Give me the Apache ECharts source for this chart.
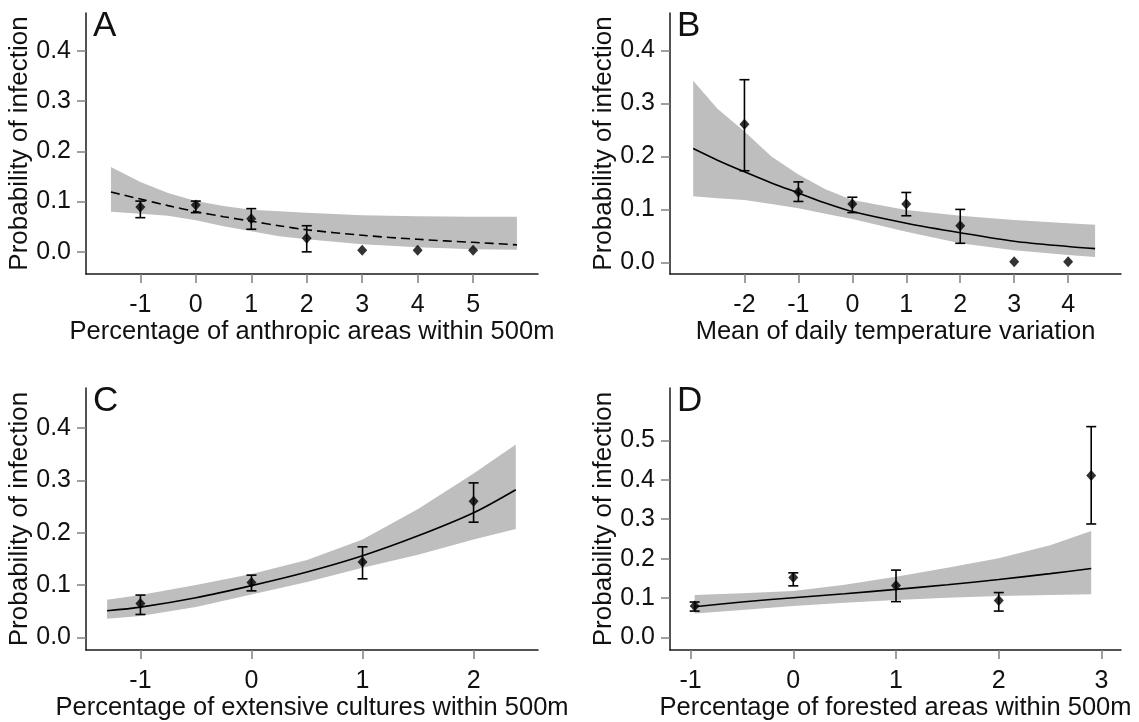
<!DOCTYPE html>
<html>
<head>
<meta charset="utf-8">
<title>Probability of infection</title>
<script src="https://cdn.jsdelivr.net/npm/echarts@6/dist/echarts.min.js"></script>
<style>
  html, body { margin: 0; padding: 0; background: #fff; }
  #main { width: 1139px; height: 722px; }
</style>
</head>
<body>
<div id="main"></div>
<script>
// ---- panel A : anthropic areas ----
var aPtX  = [-1, 0, 1, 2, 3, 4, 5];
var aPtY  = [0.089, 0.093, 0.066, 0.027, 0.003, 0.003, 0.003];
var aErrLo = [0.068, 0.078, 0.045, 0.000, null, null, null];
var aErrHi = [0.101, 0.101, 0.086, 0.052, null, null, null];
var aFitX  = [-1.53, -1, -0.5, 0, 0.5, 1, 1.5, 2, 3, 4, 5, 5.79];
var aFitY  = [0.119, 0.105, 0.092, 0.080, 0.070, 0.061, 0.052, 0.044, 0.033, 0.025, 0.019, 0.014];
var aBandHi = [0.169, 0.139, 0.117, 0.101, 0.091, 0.084, 0.081, 0.078, 0.073, 0.071, 0.070, 0.070];
var aBandLo = [0.080, 0.076, 0.072, 0.063, 0.051, 0.041, 0.031, 0.025, 0.015, 0.009, 0.005, 0.004];
var aTicksX = [-1, 0, 1, 2, 3, 4, 5];

// ---- panel B : daily temperature variation ----
var bPtX  = [-2, -1, 0, 1, 2, 3, 4];
var bPtY  = [0.261, 0.133, 0.110, 0.110, 0.069, 0.001, 0.001];
var bErrLo = [0.173, 0.115, 0.094, 0.088, 0.036, null, null];
var bErrHi = [0.345, 0.152, 0.123, 0.132, 0.100, null, null];
var bFitX  = [-2.95, -2.5, -2, -1.5, -1, -0.5, 0, 1, 2, 3, 4, 4.5];
var bFitY  = [0.215, 0.193, 0.171, 0.150, 0.131, 0.112, 0.096, 0.074, 0.056, 0.040, 0.030, 0.026];
var bBandHi = [0.343, 0.290, 0.247, 0.200, 0.166, 0.138, 0.118, 0.099, 0.088, 0.080, 0.074, 0.071];
var bBandLo = [0.125, 0.121, 0.118, 0.110, 0.102, 0.092, 0.082, 0.058, 0.036, 0.023, 0.014, 0.010];
var bTicksX = [-2, -1, 0, 1, 2, 3, 4];

// ---- panel C : extensive cultures ----
var cPtX  = [-1, 0, 1, 2];
var cPtY  = [0.065, 0.105, 0.144, 0.260];
var cErrLo = [0.044, 0.089, 0.112, 0.220];
var cErrHi = [0.081, 0.119, 0.173, 0.295];
var cFitX  = [-1.30, -1, -0.5, 0, 0.5, 1, 1.5, 2, 2.38];
var cFitY  = [0.051, 0.058, 0.076, 0.099, 0.125, 0.156, 0.194, 0.238, 0.282];
var cBandHi = [0.072, 0.081, 0.100, 0.121, 0.148, 0.187, 0.245, 0.313, 0.368];
var cBandLo = [0.036, 0.041, 0.058, 0.082, 0.106, 0.133, 0.158, 0.187, 0.207];
var cTicksX = [-1, 0, 1, 2];

// ---- panel D : forested areas ----
var dPtX  = [-0.96, 0, 1, 2, 2.9];
var dPtY  = [0.080, 0.152, 0.132, 0.094, 0.411];
var dErrLo = [0.067, 0.131, 0.091, 0.067, 0.288];
var dErrHi = [0.090, 0.164, 0.171, 0.114, 0.535];
var dFitX  = [-0.96, -0.5, 0, 0.5, 1, 1.5, 2, 2.5, 2.9];
var dFitY  = [0.078, 0.090, 0.101, 0.111, 0.122, 0.134, 0.147, 0.162, 0.175];
var dBandHi = [0.108, 0.112, 0.118, 0.134, 0.154, 0.177, 0.201, 0.234, 0.270];
var dBandLo = [0.061, 0.070, 0.080, 0.088, 0.095, 0.101, 0.105, 0.108, 0.110];
var dTicksX = [-1, 0, 1, 2, 3];

var yTicks4 = [0, 0.1, 0.2, 0.3, 0.4];
var yTicks5 = [0, 0.1, 0.2, 0.3, 0.4, 0.5];

var FONT = '"Liberation Sans", Arial, sans-serif';
var INK = '#111';
var AXIS = '#1a1a1a';
var TICK = '#808080';

var panels = [
  { letter: 'A', grid: { left: 86, top: 13, width: 452, height: 261 },
    xMin: -1.98, xMax: 6.17, yMin: -0.044, yMax: 0.475, xTicks: aTicksX, yTicks: yTicks4,
    title: 'Percentage of anthropic areas within 500m', dashed: true,
    ptX: aPtX, ptY: aPtY, lo: aErrLo, hi: aErrHi, fitX: aFitX, fitY: aFitY, bHi: aBandHi, bLo: aBandLo },
  { letter: 'B', grid: { left: 670, top: 13, width: 451, height: 261 },
    xMin: -3.38, xMax: 4.98, yMin: -0.022, yMax: 0.471, xTicks: bTicksX, yTicks: yTicks4,
    title: 'Mean of daily temperature variation', dashed: false,
    ptX: bPtX, ptY: bPtY, lo: bErrLo, hi: bErrHi, fitX: bFitX, fitY: bFitY, bHi: bBandHi, bLo: bBandLo },
  { letter: 'C', grid: { left: 86, top: 388, width: 452, height: 263 },
    xMin: -1.49, xMax: 2.58, yMin: -0.024, yMax: 0.476, xTicks: cTicksX, yTicks: yTicks4,
    title: 'Percentage of extensive cultures within 500m', dashed: false,
    ptX: cPtX, ptY: cPtY, lo: cErrLo, hi: cErrHi, fitX: cFitX, fitY: cFitY, bHi: cBandHi, bLo: cBandLo },
  { letter: 'D', grid: { left: 670, top: 388, width: 451, height: 263 },
    xMin: -1.2, xMax: 3.19, yMin: -0.032, yMax: 0.633, xTicks: dTicksX, yTicks: yTicks5,
    title: 'Percentage of forested areas within 500m', dashed: false,
    ptX: dPtX, ptY: dPtY, lo: dErrLo, hi: dErrHi, fitX: dFitX, fitY: dFitY, bHi: dBandHi, bLo: dBandLo }
];

var grids = [], xAxes = [], yAxes = [], series = [], graphics = [];

panels.forEach(function (p, i) {
  grids.push(p.grid);
  xAxes.push({
    type: 'value', gridIndex: i, min: p.xMin, max: p.xMax,
    axisLine: { show: true, onZero: false, lineStyle: { color: AXIS, width: 1.5 } },
    axisTick: { show: true, length: 9, customValues: p.xTicks, lineStyle: { color: TICK, width: 1.5 } },
    axisLabel: { customValues: p.xTicks, fontSize: 25, fontFamily: FONT, color: INK, margin: 19,
      formatter: function (v) { return String(v); } },
    splitLine: { show: false },
    name: p.title, nameLocation: 'middle', nameGap: 44,
    nameTextStyle: { fontSize: 25.5, fontFamily: FONT, color: INK }
  });
  yAxes.push({
    type: 'value', gridIndex: i, min: p.yMin, max: p.yMax,
    axisLine: { show: true, onZero: false, lineStyle: { color: AXIS, width: 1.5 } },
    axisTick: { show: true, length: 9, customValues: p.yTicks, lineStyle: { color: TICK, width: 1.5 } },
    axisLabel: { customValues: p.yTicks, fontSize: 25, fontFamily: FONT, color: INK, margin: 15,
      formatter: function (v) { return v.toFixed(1); } },
    splitLine: { show: false },
    name: 'Probability of infection', nameLocation: 'middle', nameGap: 52,
    nameTextStyle: { fontSize: 26, fontFamily: FONT, color: INK }
  });

  // confidence band
  series.push({
    type: 'custom', xAxisIndex: i, yAxisIndex: i, z: 1, silent: true,
    data: [[p.fitX[0], p.bHi[0]]],
    renderItem: function (params, api) {
      var pts = [];
      for (var j = 0; j < p.fitX.length; j++) pts.push(api.coord([p.fitX[j], p.bHi[j]]));
      for (var k = p.fitX.length - 1; k >= 0; k--) pts.push(api.coord([p.fitX[k], p.bLo[k]]));
      return { type: 'polygon', shape: { points: pts }, style: { fill: '#bebebe' } };
    }
  });

  // fitted curve
  series.push({
    type: 'line', xAxisIndex: i, yAxisIndex: i, z: 2, silent: true,
    data: p.fitX.map(function (x, j) { return [x, p.fitY[j]]; }),
    showSymbol: false, smooth: 0.3,
    lineStyle: { color: '#000', width: 1.6, type: p.dashed ? [9, 5] : 'solid' }
  });

  // error bars
  var errData = [];
  p.ptX.forEach(function (x, j) {
    if (p.lo[j] != null) errData.push([x, p.lo[j], p.hi[j]]);
  });
  series.push({
    type: 'custom', xAxisIndex: i, yAxisIndex: i, z: 3, silent: true,
    data: errData, encode: { x: 0, y: [1, 2] },
    renderItem: function (params, api) {
      var top = api.coord([api.value(0), api.value(2)]);
      var bot = api.coord([api.value(0), api.value(1)]);
      var st = { stroke: '#000', lineWidth: 1.6 };
      return { type: 'group', children: [
        { type: 'line', shape: { x1: top[0], y1: top[1], x2: bot[0], y2: bot[1] }, style: st },
        { type: 'line', shape: { x1: top[0] - 5, y1: top[1], x2: top[0] + 5, y2: top[1] }, style: st },
        { type: 'line', shape: { x1: bot[0] - 5, y1: bot[1], x2: bot[0] + 5, y2: bot[1] }, style: st }
      ] };
    }
  });

  // observed points
  series.push({
    type: 'scatter', xAxisIndex: i, yAxisIndex: i, z: 4, silent: true,
    data: p.ptX.map(function (x, j) { return [x, p.ptY[j]]; }),
    symbol: 'diamond', symbolSize: [10, 11],
    itemStyle: { color: '#000' }
  });

  graphics.push({
    type: 'text', left: p.grid.left + 7, top: p.grid.top - 4,
    style: { text: p.letter, fontSize: 35, fontFamily: FONT, fill: INK }
  });
});

var chart = echarts.init(document.getElementById('main'));
chart.setOption({
  animation: false,
  backgroundColor: '#fff',
  grid: grids,
  xAxis: xAxes,
  yAxis: yAxes,
  series: series,
  graphic: graphics
});
</script>
</body>
</html>
